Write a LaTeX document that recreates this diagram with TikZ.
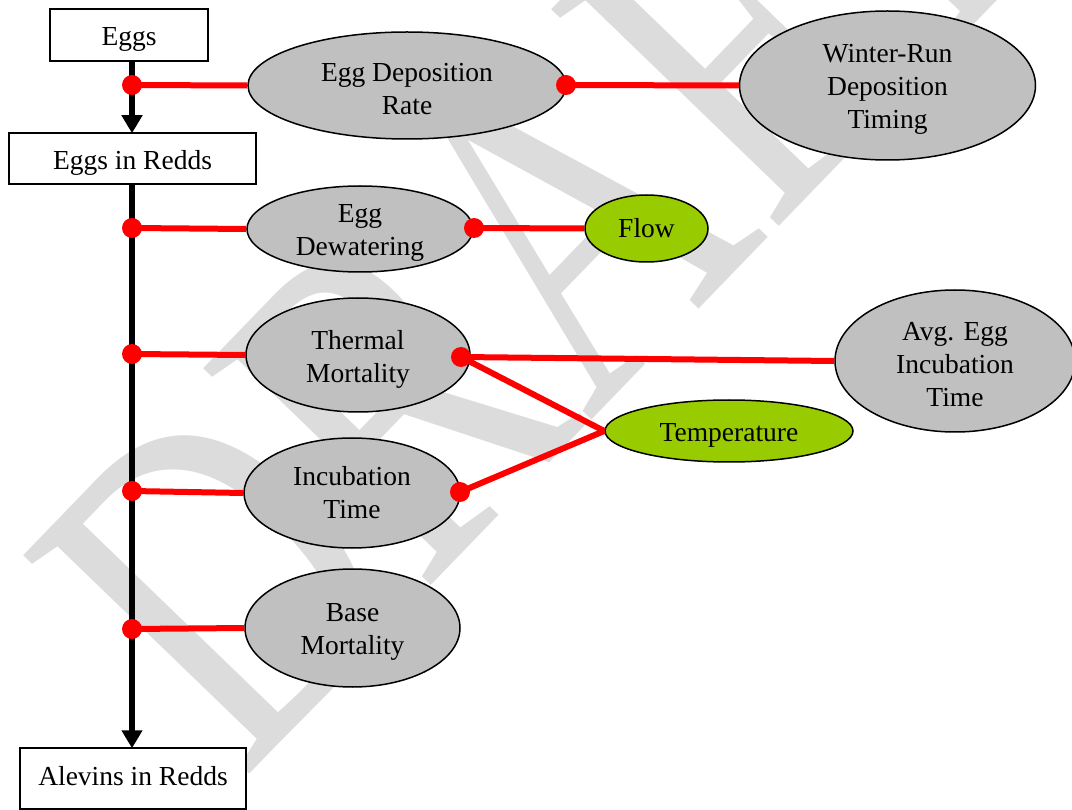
\documentclass[tikz,border=0pt]{standalone}
\usepackage{fontspec}
\setmainfont{Liberation Serif}
\usetikzlibrary{arrows.meta,shapes.geometric}
\definecolor{ovalgray}{HTML}{C0C0C0}
\definecolor{leafgreen}{HTML}{99CC00}
\definecolor{wmgray}{HTML}{DCDCDC}
\begin{document}
\begin{tikzpicture}[x=1pt,y=-1pt,
  txt/.style={font=\fontsize{27.5}{33}\selectfont, align=center, inner sep=0pt},
  caption/.style={label={[txt, yshift=-4pt]center:#1}},
  captionshift/.style 2 args={label={[txt, yshift=#1]center:#2}},
  stock/.style={draw=black, line width=1.5pt, fill=white, rectangle, inner sep=0pt},
  oval/.style={draw=black, line width=1.5pt, fill=ovalgray, ellipse, inner sep=0pt},
  driver/.style={oval, fill=leafgreen},
  dot/.style={circle, fill=red, inner sep=0pt, minimum size=20pt},
  link/.style={red, line width=6pt},
  spine/.style={black, line width=6pt, -{Triangle[width=20pt,length=18pt]}, shorten >=-1pt}
]
\useasboundingbox (0,0) rectangle (1072,810);
\fill[white] (0,0) rectangle (1072,810);

% watermark
\node[wmgray, rotate=46, xscale=0.75, anchor=base west, font=\fontsize{480}{480}\selectfont, inner sep=0pt] (wm) at (242,782) {DRAFT};

% stocks
\node[stock, minimum width=158pt, minimum height=52pt, caption={Eggs}] (eggs) at (129,35) {};
\node[stock, minimum width=247pt, minimum height=51pt, caption={Eggs in Redds}] (redds) at (132.5,158.5) {};
\node[stock, minimum width=226pt, minimum height=61pt, captionshift={2pt}{Alevins in Redds}] (alevins) at (133,778.5) {};

% factors
\node[oval, minimum width=318pt, minimum height=107pt, caption={Egg Deposition\\Rate}] (edr) at (407,85.5) {};
\node[oval, minimum width=296pt, minimum height=149pt, caption={Winter-Run\\Deposition\\Timing}] (wrt) at (887.5,85.5) {};
\node[oval, minimum width=226pt, minimum height=86pt, caption={Egg\\Dewatering}] (dew) at (360,229) {};
\node[driver, minimum width=123pt, minimum height=67pt, captionshift={0pt}{Flow}] (flow) at (646.5,228.5) {};
\node[oval, minimum width=224pt, minimum height=114pt, caption={Thermal\\Mortality}] (therm) at (358,355) {};
\node[oval, minimum width=240pt, minimum height=142pt, caption={Avg. Egg\\Incubation\\Time}] (avg) at (955,361) {};
\node[driver, minimum width=248pt, minimum height=62pt, caption={Temperature}] (temp) at (729,431) {};
\node[oval, minimum width=216pt, minimum height=110pt, captionshift={0pt}{Incubation\\Time}] (inc) at (352,493) {};
\node[oval, minimum width=215pt, minimum height=118pt, caption={Base\\Mortality}] (base) at (352.5,628) {};

% junction points
\coordinate (j1) at (132,85);
\coordinate (j2) at (132,228);
\coordinate (j3) at (132,354);
\coordinate (j4) at (132,491);
\coordinate (j5) at (132,629);
\coordinate (k1) at (566,85);
\coordinate (k2) at (474,228);
\coordinate (k3) at (461,357);
\coordinate (k4) at (460,492);

% spine
\draw[spine] (eggs.south -| j1) -- (redds.north -| j1);
\draw[spine] (redds.south -| j1) -- (alevins.north -| j1);

% links
\draw[link] (j1) -- (edr.west);
\draw[link] (j2) -- (dew.west);
\draw[link] (j3) -- (therm.west);
\draw[link] (j4) -- (inc.west);
\draw[link] (j5) -- (base.west);
\draw[link] (k1) -- (wrt.west);
\draw[link] (k2) -- (flow.west);
\draw[link] (k3) -- (avg.west);
\draw[link] (k3) -- (temp.west);
\draw[link] (k4) -- (temp.west);

% junction dots
\foreach \d in {j1,j2,j3,j4,j5,k1,k2,k3,k4}
  \node[dot] at (\d) {};
\end{tikzpicture}
\end{document}
